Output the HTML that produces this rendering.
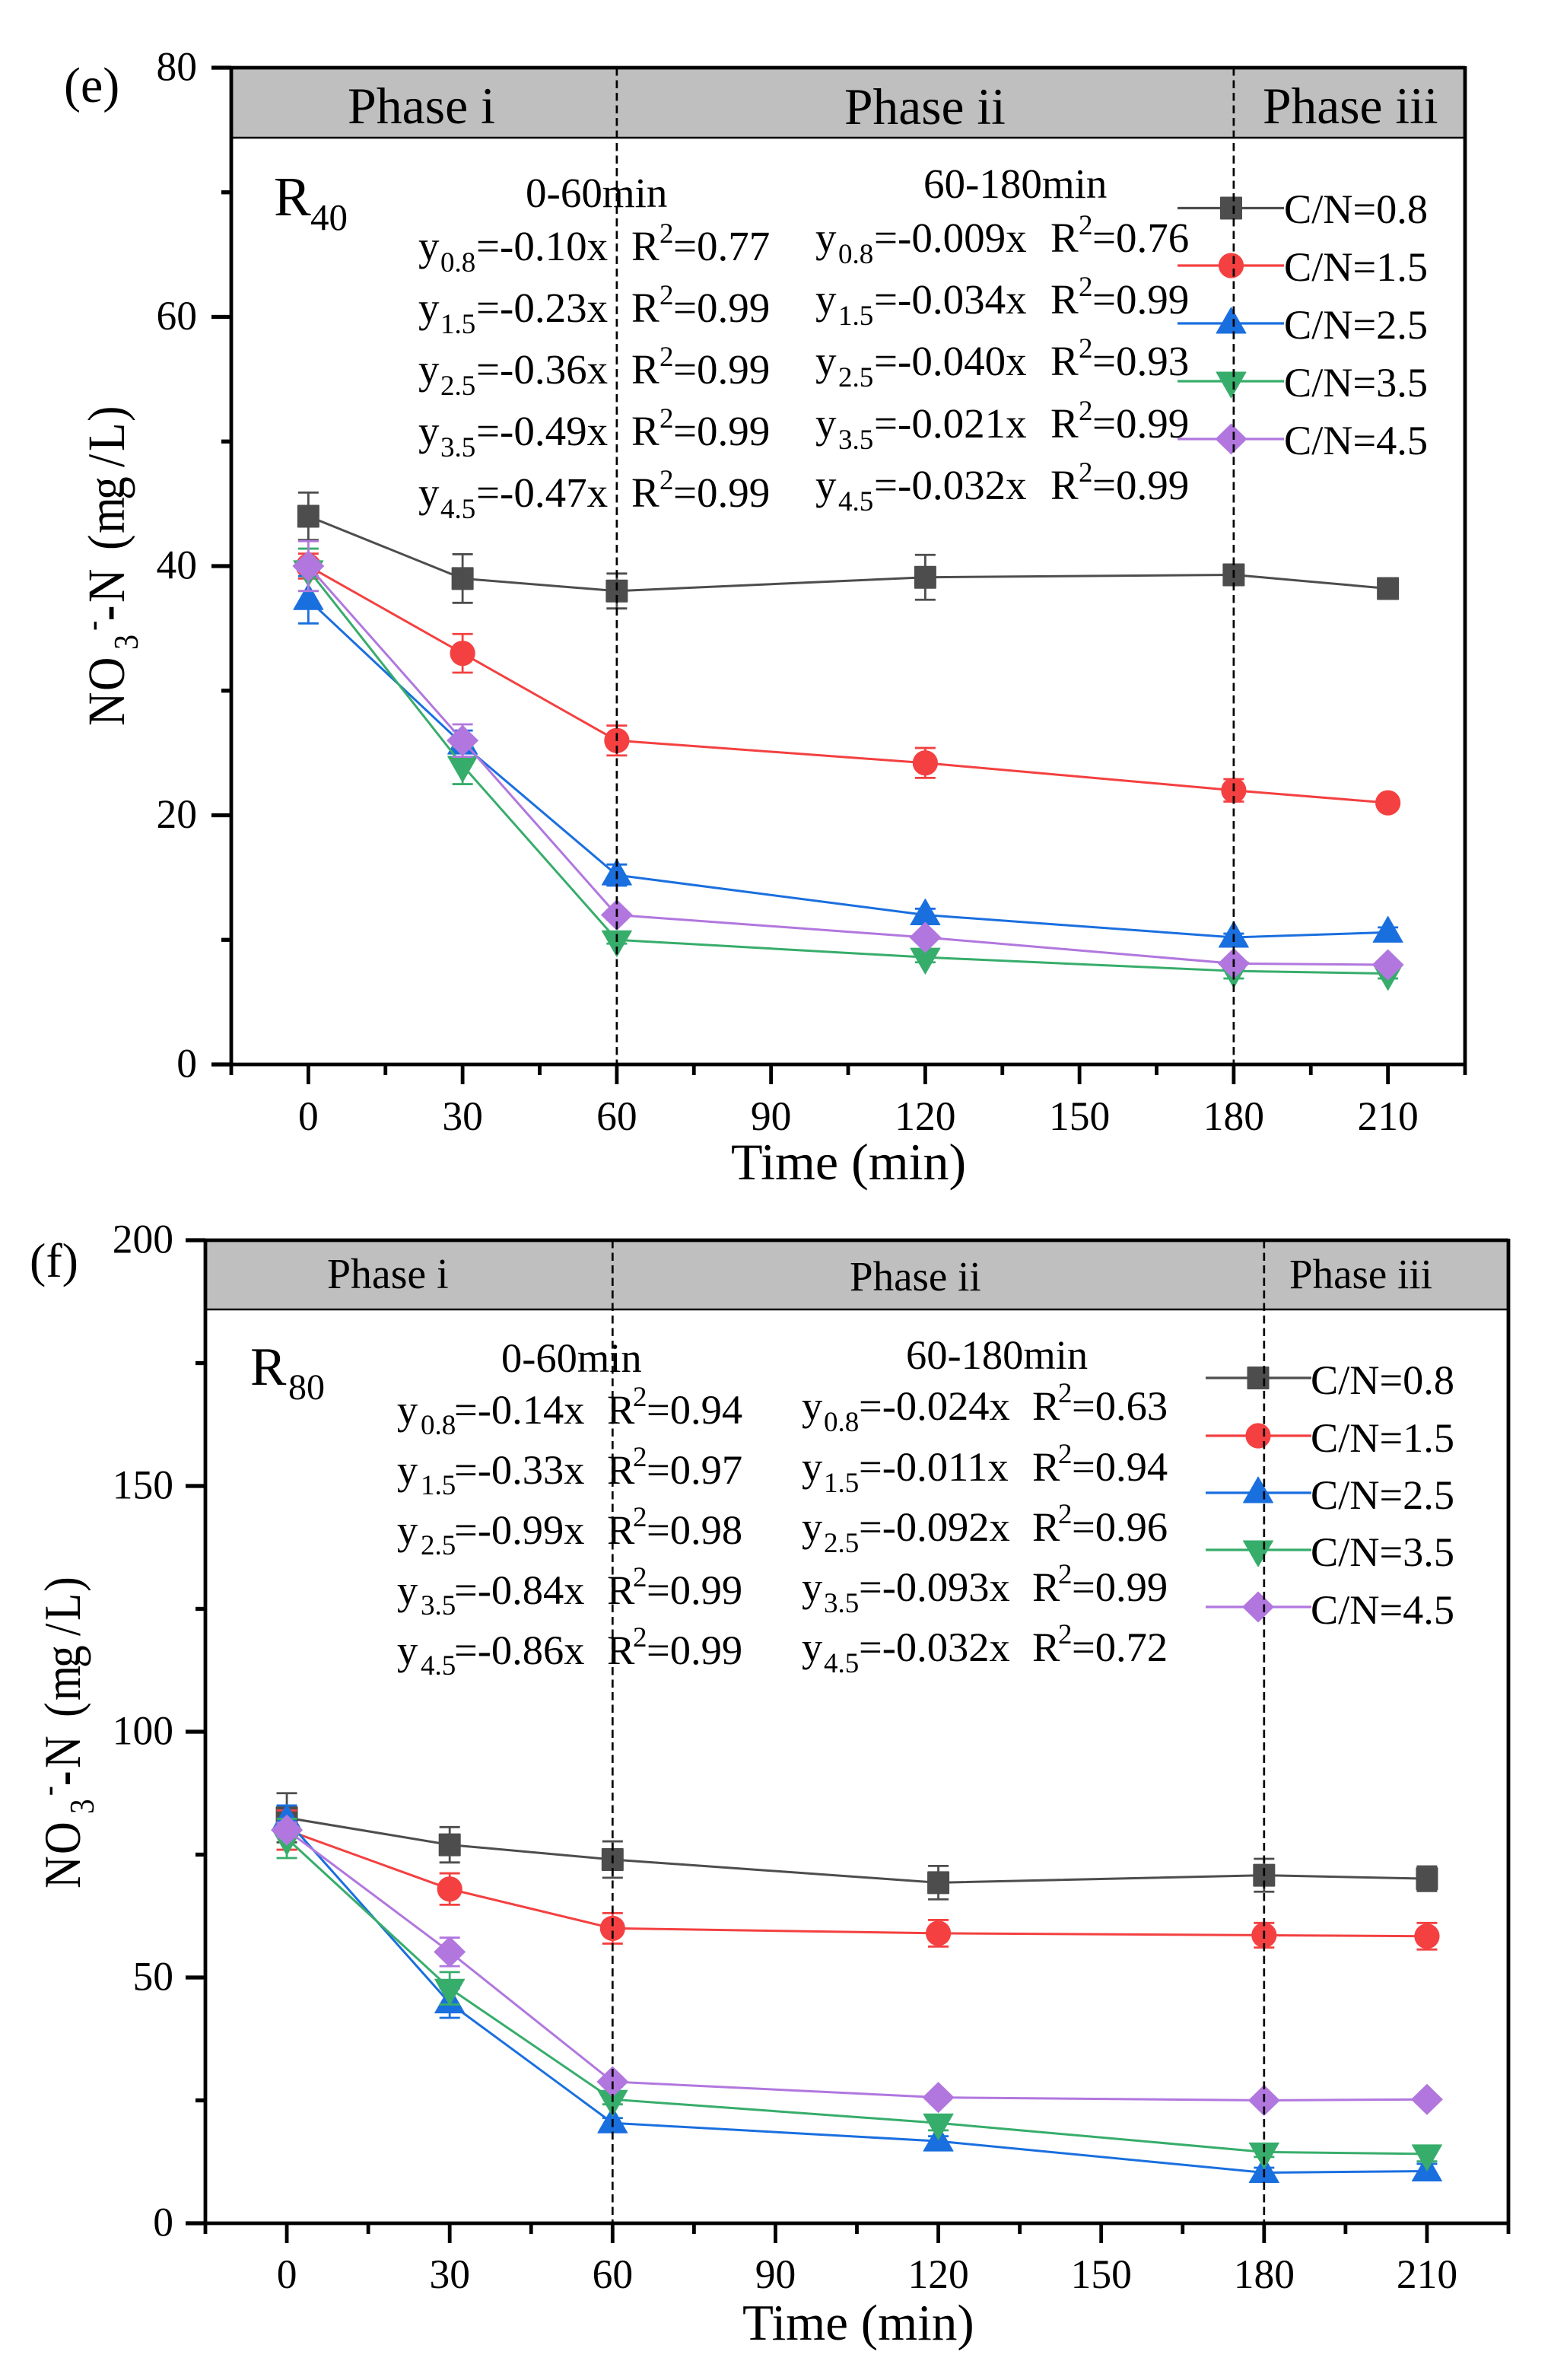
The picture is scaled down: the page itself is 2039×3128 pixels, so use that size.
<!DOCTYPE html>
<html lang="en">
<head>
<meta charset="utf-8">
<title>NO3-N removal over time, R40 and R80</title>
<style>
html,body{margin:0;padding:0;background:#fff;}
#figure{display:block;width:2039px;height:3128px;}
text{font-family:"Liberation Serif",serif;fill:#000;}
.eq{font-size:55px;}
.eqf{font-size:54.5px;}
.s{font-size:37px;}
.leg{font-size:54.3px;}
</style>
</head>
<body>
<svg id="figure" xmlns="http://www.w3.org/2000/svg" width="2039" height="3128" viewBox="0 0 2039 3128">
  <rect x="0" y="0" width="2039" height="3128" fill="#fff"/>

  <g id="panel-e">
    <rect x="304" y="89" width="1622" height="92" fill="#bfbfbf"/>
    <line x1="304" x2="1926" y1="181" y2="181" stroke="#000" stroke-width="2.5"/>
    <g id="axes-e"></g>
    <g id="series-e"></g>
    <text x="84" y="134" font-size="66">(e)</text>
    <text x="457" y="162" font-size="67.8">Phase i</text>
    <text x="1110" y="163" font-size="67.5">Phase ii</text>
    <text x="1660" y="162" font-size="67.5">Phase iii</text>
    <text><tspan x="360" y="283" font-size="73">R</tspan><tspan x="408" y="302" font-size="49">40</tspan></text>
    <text x="961" y="1550" font-size="68">Time (min)</text>
    <text transform="translate(163,954) rotate(-90) scale(0.89,1)" font-size="69"><tspan x="0" y="0">N</tspan><tspan x="51.7" y="0">O</tspan><tspan x="112.4" y="18" font-size="45">3</tspan><tspan x="140.4" y="-27" font-size="45">-</tspan><tspan x="155" y="0" font-weight="bold">-</tspan><tspan x="182" y="0">N</tspan><tspan x="259.6" y="0">(</tspan><tspan x="284.3" y="0">m</tspan><tspan x="333.7" y="0">g</tspan><tspan x="382" y="0">/</tspan><tspan x="405.6" y="0">L</tspan><tspan x="449.4" y="0">)</tspan></text>

    <text class="eq" x="691" y="272">0-60min</text>
    <text class="eq"><tspan x="550" y="342">y</tspan><tspan class="s" x="579" y="357">0.8</tspan><tspan x="626" y="342">=-0.10x</tspan><tspan x="830" y="342">R</tspan><tspan class="s" x="867" y="319">2</tspan><tspan x="885" y="342">=0.77</tspan></text>
    <text class="eq"><tspan x="550" y="423">y</tspan><tspan class="s" x="579" y="438">1.5</tspan><tspan x="626" y="423">=-0.23x</tspan><tspan x="830" y="423">R</tspan><tspan class="s" x="867" y="400">2</tspan><tspan x="885" y="423">=0.99</tspan></text>
    <text class="eq"><tspan x="550" y="504">y</tspan><tspan class="s" x="579" y="519">2.5</tspan><tspan x="626" y="504">=-0.36x</tspan><tspan x="830" y="504">R</tspan><tspan class="s" x="867" y="481">2</tspan><tspan x="885" y="504">=0.99</tspan></text>
    <text class="eq"><tspan x="550" y="585">y</tspan><tspan class="s" x="579" y="600">3.5</tspan><tspan x="626" y="585">=-0.49x</tspan><tspan x="830" y="585">R</tspan><tspan class="s" x="867" y="562">2</tspan><tspan x="885" y="585">=0.99</tspan></text>
    <text class="eq"><tspan x="550" y="666">y</tspan><tspan class="s" x="579" y="681">4.5</tspan><tspan x="626" y="666">=-0.47x</tspan><tspan x="830" y="666">R</tspan><tspan class="s" x="867" y="643">2</tspan><tspan x="885" y="666">=0.99</tspan></text>

    <text class="eq" x="1214" y="260">60-180min</text>
    <text class="eq"><tspan x="1072" y="331">y</tspan><tspan class="s" x="1102" y="346">0.8</tspan><tspan x="1149" y="331">=-0.009x</tspan><tspan x="1381" y="331">R</tspan><tspan class="s" x="1418" y="308">2</tspan><tspan x="1436" y="331">=0.76</tspan></text>
    <text class="eq"><tspan x="1072" y="412">y</tspan><tspan class="s" x="1102" y="427">1.5</tspan><tspan x="1149" y="412">=-0.034x</tspan><tspan x="1381" y="412">R</tspan><tspan class="s" x="1418" y="389">2</tspan><tspan x="1436" y="412">=0.99</tspan></text>
    <text class="eq"><tspan x="1072" y="493">y</tspan><tspan class="s" x="1102" y="508">2.5</tspan><tspan x="1149" y="493">=-0.040x</tspan><tspan x="1381" y="493">R</tspan><tspan class="s" x="1418" y="470">2</tspan><tspan x="1436" y="493">=0.93</tspan></text>
    <text class="eq"><tspan x="1072" y="575">y</tspan><tspan class="s" x="1102" y="590">3.5</tspan><tspan x="1149" y="575">=-0.021x</tspan><tspan x="1381" y="575">R</tspan><tspan class="s" x="1418" y="552">2</tspan><tspan x="1436" y="575">=0.99</tspan></text>
    <text class="eq"><tspan x="1072" y="656">y</tspan><tspan class="s" x="1102" y="671">4.5</tspan><tspan x="1149" y="656">=-0.032x</tspan><tspan x="1381" y="656">R</tspan><tspan class="s" x="1418" y="633">2</tspan><tspan x="1436" y="656">=0.99</tspan></text>

    <g id="legend-e">
      <text class="leg" x="1688" y="293">C/N=0.8</text>
      <text class="leg" x="1688" y="369">C/N=1.5</text>
      <text class="leg" x="1688" y="445">C/N=2.5</text>
      <text class="leg" x="1688" y="521">C/N=3.5</text>
      <text class="leg" x="1688" y="597">C/N=4.5</text>
    </g>
    <g id="dash-e"></g>
  </g>

  <g id="panel-f">
    <rect x="270" y="1630" width="1713" height="91" fill="#bfbfbf"/>
    <line x1="270" x2="1983" y1="1721" y2="1721" stroke="#000" stroke-width="2.5"/>
    <g id="axes-f"></g>
    <g id="series-f"></g>
    <text x="39" y="1678" font-size="64">(f)</text>
    <text x="430" y="1693" font-size="55.8">Phase i</text>
    <text x="1117" y="1696" font-size="55">Phase ii</text>
    <text x="1695" y="1693" font-size="55">Phase iii</text>
    <text><tspan x="329" y="1820" font-size="71">R</tspan><tspan x="379" y="1839" font-size="48">80</tspan></text>
    <text x="976" y="3075" font-size="67">Time (min)</text>
    <text transform="translate(105,2482) rotate(-90) scale(0.87,1)" font-size="68"><tspan x="0" y="0">N</tspan><tspan x="51.7" y="0">O</tspan><tspan x="112.6" y="18" font-size="45">3</tspan><tspan x="140" y="-27" font-size="45">-</tspan><tspan x="155" y="0" font-weight="bold">-</tspan><tspan x="181.6" y="0">N</tspan><tspan x="258.6" y="0">(</tspan><tspan x="283.9" y="0">m</tspan><tspan x="333.3" y="0">g</tspan><tspan x="381.6" y="0">/</tspan><tspan x="404.6" y="0">L</tspan><tspan x="448.3" y="0">)</tspan></text>

    <text class="eqf" x="659" y="1803">0-60min</text>
    <text class="eqf"><tspan x="522" y="1871">y</tspan><tspan class="s" x="553" y="1885">0.8</tspan><tspan x="597" y="1871">=-0.14x</tspan><tspan x="798" y="1871">R</tspan><tspan class="s" x="832" y="1848">2</tspan><tspan x="850" y="1871">=0.94</tspan></text>
    <text class="eqf"><tspan x="522" y="1950">y</tspan><tspan class="s" x="553" y="1964">1.5</tspan><tspan x="597" y="1950">=-0.33x</tspan><tspan x="798" y="1950">R</tspan><tspan class="s" x="832" y="1927">2</tspan><tspan x="850" y="1950">=0.97</tspan></text>
    <text class="eqf"><tspan x="522" y="2029">y</tspan><tspan class="s" x="553" y="2043">2.5</tspan><tspan x="597" y="2029">=-0.99x</tspan><tspan x="798" y="2029">R</tspan><tspan class="s" x="832" y="2006">2</tspan><tspan x="850" y="2029">=0.98</tspan></text>
    <text class="eqf"><tspan x="522" y="2108">y</tspan><tspan class="s" x="553" y="2122">3.5</tspan><tspan x="597" y="2108">=-0.84x</tspan><tspan x="798" y="2108">R</tspan><tspan class="s" x="832" y="2085">2</tspan><tspan x="850" y="2108">=0.99</tspan></text>
    <text class="eqf"><tspan x="522" y="2187">y</tspan><tspan class="s" x="553" y="2201">4.5</tspan><tspan x="597" y="2187">=-0.86x</tspan><tspan x="798" y="2187">R</tspan><tspan class="s" x="832" y="2164">2</tspan><tspan x="850" y="2187">=0.99</tspan></text>

    <text class="eqf" x="1191" y="1799">60-180min</text>
    <text class="eqf"><tspan x="1054" y="1866">y</tspan><tspan class="s" x="1083" y="1881">0.8</tspan><tspan x="1129" y="1866">=-0.024x</tspan><tspan x="1357" y="1866">R</tspan><tspan class="s" x="1391" y="1843">2</tspan><tspan x="1409" y="1866">=0.63</tspan></text>
    <text class="eqf"><tspan x="1054" y="1946">y</tspan><tspan class="s" x="1083" y="1961">1.5</tspan><tspan x="1129" y="1946">=-0.011x</tspan><tspan x="1357" y="1946">R</tspan><tspan class="s" x="1391" y="1923">2</tspan><tspan x="1409" y="1946">=0.94</tspan></text>
    <text class="eqf"><tspan x="1054" y="2025">y</tspan><tspan class="s" x="1083" y="2040">2.5</tspan><tspan x="1129" y="2025">=-0.092x</tspan><tspan x="1357" y="2025">R</tspan><tspan class="s" x="1391" y="2002">2</tspan><tspan x="1409" y="2025">=0.96</tspan></text>
    <text class="eqf"><tspan x="1054" y="2104">y</tspan><tspan class="s" x="1083" y="2119">3.5</tspan><tspan x="1129" y="2104">=-0.093x</tspan><tspan x="1357" y="2104">R</tspan><tspan class="s" x="1391" y="2081">2</tspan><tspan x="1409" y="2104">=0.99</tspan></text>
    <text class="eqf"><tspan x="1054" y="2183">y</tspan><tspan class="s" x="1083" y="2198">4.5</tspan><tspan x="1129" y="2183">=-0.032x</tspan><tspan x="1357" y="2183">R</tspan><tspan class="s" x="1391" y="2160">2</tspan><tspan x="1409" y="2183">=0.72</tspan></text>

    <g id="legend-f">
      <text class="leg" x="1723" y="1832" font-size="53">C/N=0.8</text>
      <text class="leg" x="1723" y="1908" font-size="53">C/N=1.5</text>
      <text class="leg" x="1723" y="1983" font-size="53">C/N=2.5</text>
      <text class="leg" x="1723" y="2058" font-size="53">C/N=3.5</text>
      <text class="leg" x="1723" y="2134" font-size="53">C/N=4.5</text>
    </g>
    <g id="dash-f"></g>
  </g>
</svg>

<script>
// Shared categories and tick labels
const times = [0, 30, 60, 120, 180, 210];
const xMajorTicks = [0, 30, 60, 90, 120, 150, 180, 210];
const xMinorTicks = [-15, 15, 45, 75, 105, 135, 165, 195, 225];
const phaseDividers = [60, 180];
const yMajorTicksE = [0, 20, 40, 60, 80];
const yMinorTicksE = [10, 30, 50, 70];
const yMajorTicksF = [0, 50, 100, 150, 200];
const yMinorTicksF = [25, 75, 125, 175];

// Panel (e) R40 values
const r40Cn08 = [44.0, 39.0, 38.0, 39.1, 39.3, 38.2];
const r40Cn15 = [40.0, 33.0, 26.0, 24.2, 22.0, 21.0];
const r40Cn25 = [37.3, 25.7, 15.2, 12.0, 10.2, 10.6];
const r40Cn35 = [39.7, 24.0, 10.0, 8.6, 7.5, 7.3];
const r40Cn45 = [40.0, 26.0, 12.0, 10.2, 8.1, 8.0];
const r40Cn08Err = [1.9, 1.95, 1.4, 1.8, 0.6, 0.3];
const r40Cn15Err = [1.0, 1.55, 1.2, 1.2, 0.9, 0.5];
const r40Cn25Err = [1.9, 1.1, 0.85, 0.5, 0.3, 0.4];
const r40Cn35Err = [1.7, 1.5, 0.3, 0.4, 0.6, 0.4];
const r40Cn45Err = [2.0, 1.3, 0.4, 0.3, 0.3, 0.3];

// Panel (f) R80 values
const r80Cn08 = [82.5, 77.0, 74.0, 69.3, 70.8, 70.1];
const r80Cn15 = [80.0, 68.0, 60.0, 59.0, 58.6, 58.4];
const r80Cn25 = [82.0, 44.8, 20.4, 16.7, 10.3, 10.6];
const r80Cn35 = [78.3, 47.8, 25.2, 20.4, 14.5, 14.1];
const r80Cn45 = [80.0, 55.2, 28.8, 25.6, 25.0, 25.2];
const r80Cn08Err = [5.0, 3.6, 3.7, 3.4, 3.35, 2.5];
const r80Cn15Err = [4.0, 3.2, 3.1, 2.7, 2.5, 2.7];
const r80Cn25Err = [3.0, 3.0, 1.0, 1.0, 1.0, 1.5];
const r80Cn35Err = [4.0, 3.3, 1.0, 1.5, 1.0, 1.5];
const r80Cn45Err = [1.5, 2.9, 1.0, 0.5, 0.5, 0.5];

const SVGNS = 'http://www.w3.org/2000/svg';
const seriesNames = ['cn08', 'cn15', 'cn25', 'cn35', 'cn45'];
const seriesColors = ['#4d4d4d', '#f44040', '#1a6fdf', '#37ad6b', '#b177de'];
const seriesShapes = ['square', 'circle', 'up', 'down', 'diamond'];

function make(tag, attrs, parent) {
  const el = document.createElementNS(SVGNS, tag);
  for (const k in attrs) el.setAttribute(k, attrs[k]);
  parent.appendChild(el);
  return el;
}

function drawMarker(parent, shape, cx, cy, color, name) {
  let el;
  if (shape === 'square') {
    el = make('rect', {x: cx - 14.5, y: cy - 15, width: 29, height: 30, rx: 1, fill: color}, parent);
  } else if (shape === 'circle') {
    el = make('circle', {cx: cx, cy: cy, r: 16.6, fill: color}, parent);
  } else if (shape === 'up') {
    el = make('polygon', {points: [cx, cy - 21, cx + 19.5, cy + 13, cx - 19.5, cy + 13].join(' '), fill: color, stroke: color, 'stroke-width': 1, 'stroke-linejoin': 'round'}, parent);
  } else if (shape === 'down') {
    el = make('polygon', {points: [cx, cy + 22, cx + 19.5, cy - 12, cx - 19.5, cy - 12].join(' '), fill: color, stroke: color, 'stroke-width': 1, 'stroke-linejoin': 'round'}, parent);
  } else {
    el = make('polygon', {points: [cx, cy - 20.5, cx + 21, cy, cx, cy + 20.5, cx - 21, cy].join(' '), fill: color}, parent);
  }
  
  
}

function drawAxes(group, xS, yS, box, yMajor, yMinor, yLabelRight, xLabelY) {
  const sw = 4.8;
  const ln = (x1, y1, x2, y2, w, name) => {
    const el = make('line', {x1: x1, y1: y1, x2: x2, y2: y2, stroke: '#000', 'stroke-width': w}, group);
    
    
  };
  ln(box.left, box.top, box.right, box.top, sw, 'top-border');
  ln(box.right, box.top - 2, box.right, box.bottom, sw, 'right-border');
  ln(box.left, box.top - 2, box.left, box.bottom, sw, 'y-axis-line');
  ln(box.left - 26, box.bottom, box.right + 2, box.bottom, sw, 'x-axis-line');
  yMajor.forEach(v => {
    ln(box.left - 26, yS(v), box.left, yS(v), sw + 0.5, 'y-major-tick');
    const t = make('text', {x: yLabelRight, y: yS(v) + 16.5, 'text-anchor': 'end', 'font-size': 53.5}, group);
    
    
    t.textContent = String(v);
  });
  yMinor.forEach(v => ln(box.left - 13, yS(v), box.left, yS(v), sw + 0.5, 'y-minor-tick'));
  xMajorTicks.forEach(v => {
    ln(xS(v), box.bottom, xS(v), box.bottom + 26, sw, 'x-major-tick');
    const t = make('text', {x: xS(v), y: xLabelY, 'text-anchor': 'middle', 'font-size': 53.5}, group);
    
    
    t.textContent = String(v);
  });
  xMinorTicks.forEach(v => ln(xS(v), box.bottom, xS(v), box.bottom + 14, sw, 'x-minor-tick'));
}

function drawSeries(group, xS, yS, values, errors, idx) {
  const color = seriesColors[idx];
  const name = seriesNames[idx];
  const g = make('g', {}, group);
  
  
  const line = make('polyline', {
    points: times.map((t, i) => xS(t) + ',' + yS(values[i])).join(' '),
    fill: 'none', stroke: color, 'stroke-width': 3
  }, g);
  
  
  times.forEach((t, i) => {
    drawMarker(g, seriesShapes[idx], xS(t), yS(values[i]), color, 'point-' + name);
  });
  times.forEach((t, i) => {
    const x = xS(t);
    const hi = yS(values[i] + errors[i]);
    const lo = yS(values[i] - errors[i]);
    const err = make('path', {
      d: 'M' + (x - 13.5) + ' ' + hi + 'H' + (x + 13.5) + 'M' + x + ' ' + hi + 'V' + lo + 'M' + (x - 13.5) + ' ' + lo + 'H' + (x + 13.5),
      fill: 'none', stroke: color, 'stroke-width': 2.8
    }, g);
    
    
  });
}

function drawLegend(group, x1, x2, xm, rows) {
  rows.forEach((y, i) => {
    const l = make('line', {x1: x1, x2: x2, y1: y, y2: y, stroke: seriesColors[i], 'stroke-width': 3.2}, group);
    
    
    drawMarker(group, seriesShapes[i], xm, y, seriesColors[i], 'legend-marker-' + seriesNames[i]);
  });
}

function drawDividers(group, xS, top, bottom) {
  phaseDividers.forEach(v => {
    const l = make('line', {x1: xS(v), x2: xS(v), y1: top, y2: bottom, stroke: '#000', 'stroke-width': 2.7, 'stroke-dasharray': '10.5 6'}, group);
    
    
  });
}

// Panel (e)
const boxE = {left: 304, right: 1926, top: 89, bottom: 1399};
const xE = t => boxE.left + (t + 15) * (boxE.right - boxE.left) / 240;
const yE = v => boxE.bottom - v * (boxE.bottom - boxE.top) / 80;
drawAxes(document.getElementById('axes-e'), xE, yE, boxE, yMajorTicksE, yMinorTicksE, 259, 1485);
const seriesE = document.getElementById('series-e');
[r40Cn08, r40Cn15, r40Cn25, r40Cn35, r40Cn45].forEach((vals, i) => {
  drawSeries(seriesE, xE, yE, vals, [r40Cn08Err, r40Cn15Err, r40Cn25Err, r40Cn35Err, r40Cn45Err][i], i);
});
drawLegend(document.getElementById('legend-e'), 1548, 1688, 1618.5, [273.5, 349, 425, 501, 577]);
drawDividers(document.getElementById('dash-e'), xE, boxE.top, boxE.bottom);

// Panel (f)
const boxF = {left: 270, right: 1983, top: 1630, bottom: 2922};
const xF = t => boxF.left + (t + 15) * (boxF.right - boxF.left) / 240;
const yF = v => boxF.bottom - v * (boxF.bottom - boxF.top) / 200;
drawAxes(document.getElementById('axes-f'), xF, yF, boxF, yMajorTicksF, yMinorTicksF, 228, 3007);
const seriesF = document.getElementById('series-f');
[r80Cn08, r80Cn15, r80Cn25, r80Cn35, r80Cn45].forEach((vals, i) => {
  drawSeries(seriesF, xF, yF, vals, [r80Cn08Err, r80Cn15Err, r80Cn25Err, r80Cn35Err, r80Cn45Err][i], i);
});
drawLegend(document.getElementById('legend-f'), 1585, 1724, 1654, [1811, 1887, 1962, 2037, 2112]);
drawDividers(document.getElementById('dash-f'), xF, boxF.top, boxF.bottom);
</script>
</body>
</html>
